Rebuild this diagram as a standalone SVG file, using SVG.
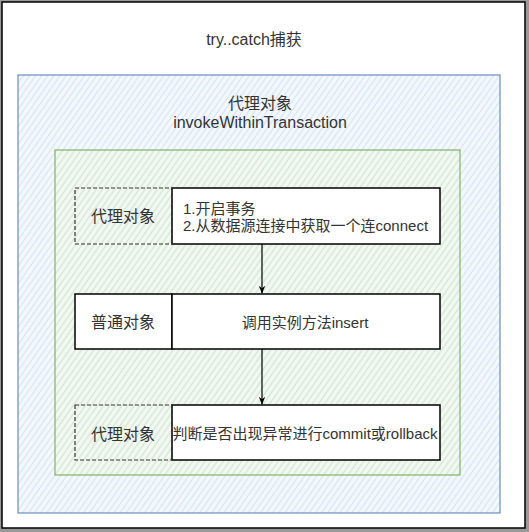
<svg xmlns="http://www.w3.org/2000/svg" width="529" height="532" viewBox="0 0 529 532">
<defs>
<pattern id="hBlue" width="5" height="5" patternUnits="userSpaceOnUse" patternTransform="rotate(-55)">
<rect width="5" height="5" fill="#f5f9fd"/>
<line x1="0" y1="2.5" x2="5" y2="2.5" stroke="#d6e5fa" stroke-width="1.3"/>
</pattern>
<pattern id="hGreen" width="5" height="5" patternUnits="userSpaceOnUse" patternTransform="rotate(-55)">
<rect width="5" height="5" fill="#f3f8f2"/>
<line x1="0" y1="2.5" x2="5" y2="2.5" stroke="#d3e6d2" stroke-width="1.3"/>
</pattern>
<marker id="arr" viewBox="0 0 10 10" refX="9" refY="5" markerWidth="8" markerHeight="8" orient="auto" markerUnits="userSpaceOnUse">
<path d="M0,1 L10,5 L0,9 L3,5 Z" fill="#000"/>
</marker>
</defs>
<style>
text{font-family:"Liberation Sans","Noto Sans CJK SC",sans-serif;font-size:16px;fill:#333;}
.s{font-size:15px;}
.c{text-anchor:middle;}
.cell{fill:#fff;stroke:#000;stroke-width:1.5;}
.dash{fill:none;stroke:#333;stroke-width:1.2;stroke-dasharray:4 2;}
.conn{stroke:#000;stroke-width:1.2;fill:none;}
</style>
<rect x="0" y="0" width="529" height="532" fill="#9a9a9a"/>
<g id="outer">
<rect x="2" y="2" width="523" height="526" fill="#fff" stroke="#000" stroke-width="1.5"/>
<text class="c" x="254" y="45">try..catch捕获</text>
</g>
<g id="proxy">
<rect x="18" y="75" width="482" height="438" fill="url(#hBlue)" stroke="#6c8ebf" stroke-width="1.2"/>
<text class="c" x="260" y="109">代理对象</text>
<text class="c" x="260" y="128">invokeWithinTransaction</text>
</g>
<g id="inner">
<rect x="55" y="150" width="405" height="325" fill="url(#hGreen)" stroke="#82b366" stroke-width="1.2"/>
</g>
<g id="row1">
<rect class="cell" x="172" y="188" width="268" height="56"/>
<rect class="dash" x="75" y="188" width="97" height="56"/>
<text class="c" x="123" y="222">代理对象</text>
<text class="s" x="183" y="214">1.开启事务</text>
<text class="s" x="183" y="231">2.从数据源连接中获取一个连connect</text>
</g>
<g id="row2">
<rect class="cell" x="75" y="294" width="97" height="55"/>
<rect class="cell" x="172" y="294" width="268" height="55"/>
<text class="c" x="123" y="328">普通对象</text>
<text class="c s" x="305" y="328">调用实例方法insert</text>
</g>
<g id="row3">
<rect class="cell" x="172" y="405" width="268" height="55"/>
<rect class="dash" x="75" y="405" width="97" height="55"/>
<text class="c" x="123" y="440">代理对象</text>
<text class="c s" x="305" y="439">判断是否出现异常进行commit或rollback</text>
</g>
<g id="connectors">
<line class="conn" x1="262" y1="244" x2="262" y2="293" marker-end="url(#arr)"/>
<line class="conn" x1="262" y1="349" x2="262" y2="404" marker-end="url(#arr)"/>
</g>
</svg>
